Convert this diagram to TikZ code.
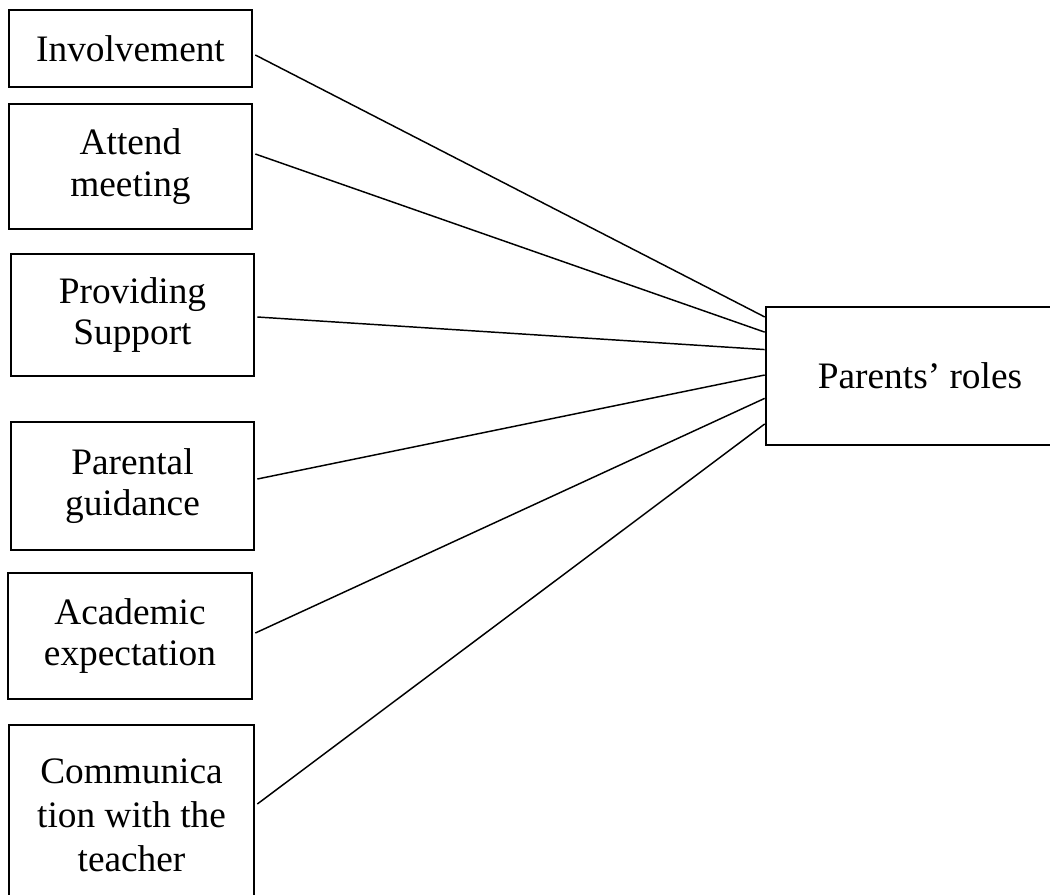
\documentclass[tikz,border=0pt]{standalone}
\usepackage{fontspec}
\setmainfont{Liberation Serif}
\usetikzlibrary{calc}
\begin{document}
\begin{tikzpicture}[x=0.75pt,y=-0.75pt,
  box/.style={draw,line width=2pt,inner sep=0pt,align=center,
    font=\fontsize{28}{31}\selectfont},
  link/.style={line width=1.1pt}]
\useasboundingbox (0,0) rectangle (1050,894);
\clip (0,0) rectangle (1050,894);
\node[box,minimum width=243*0.75pt,minimum height=77*0.75pt] (inv) at (130.5,48.5) {Involvement};
\node[box,minimum width=243*0.75pt,minimum height=125*0.75pt] (att) at (130.5,166.5) {Attend\\meeting};
\node[box,minimum width=243*0.75pt,minimum height=122*0.75pt] (pro) at (132.5,315) {Providing\\Support};
\node[box,minimum width=243*0.75pt,minimum height=128*0.75pt] (par) at (132.5,486) {Parental\\guidance};
\node[box,minimum width=244*0.75pt,minimum height=126*0.75pt] (aca) at (130,636) {Academic\\expectation};
\node[box,minimum width=245*0.75pt,minimum height=180*0.75pt,font=\fontsize{28}{33}\selectfont] (com) at (131.5,815) {Communica\\tion with the\\teacher};
\node[box,minimum width=308*0.75pt,minimum height=138*0.75pt] (p) at (920,376) {Parents’ roles};
\draw[link] ($(inv.east)+(2,6.5)$) -- ($(p.north west)!0.08!(p.south west)$);
\draw[link] ($(att.east)+(2,-12.5)$) -- ($(p.north west)!0.188!(p.south west)$);
\draw[link] ($(pro.east)+(2,2)$) -- ($(p.north west)!0.312!(p.south west)$);
\draw[link] ($(par.east)+(2,-7)$) -- ($(p.north west)!0.493!(p.south west)$);
\draw[link] ($(aca.east)+(2,-3)$) -- ($(p.north west)!0.659!(p.south west)$);
\draw[link] ($(com.east)+(2,-11)$) -- ($(p.north west)!0.841!(p.south west)$);
\end{tikzpicture}
\end{document}
